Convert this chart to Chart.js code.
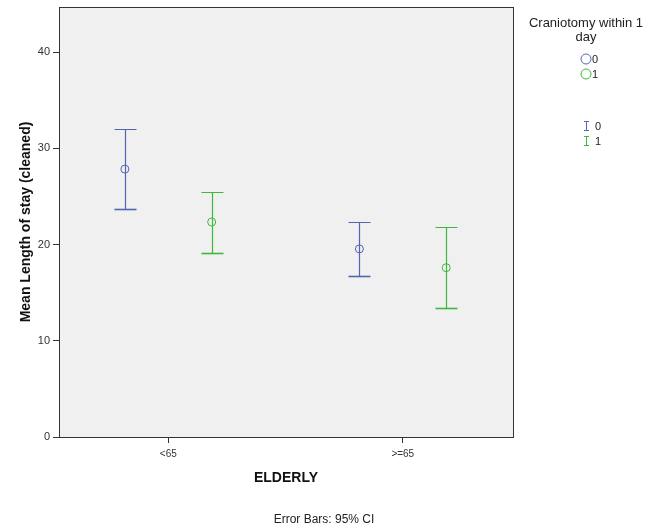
<!DOCTYPE html>
<html>
<head>
<meta charset="utf-8">
<script src="https://cdn.jsdelivr.net/npm/chart.js@4/dist/chart.umd.min.js"></script>
<style>
html,body{margin:0;padding:0;background:#fff;}
#wrap{position:relative;width:654px;height:531px;}
</style>
</head>
<body>
<div id="wrap"><canvas id="c" width="654" height="531"></canvas></div>
<script>
// ---- data ----
const categories = ["<65", ">=65"];
const groups = ["0", "1"];
const meanG0 = [27.85, 19.55];
const lowerG0 = [23.7, 16.75];
const upperG0 = [32.0, 22.4];
const meanG1 = [22.35, 17.6];
const lowerG1 = [19.1, 13.4];
const upperG1 = [25.5, 21.8];
const yTicks = [0, 10, 20, 30, 40];

const colors = ["#5266b0", "#3cb83c"];
const offsets = [-0.185, 0.185];
const series = [
  {mean: meanG0, lo: lowerG0, hi: upperG0},
  {mean: meanG1, lo: lowerG1, hi: upperG1}
];

const datasets = series.map((s, g) => ({
  label: groups[g],
  data: categories.map((c, i) => ({x: i + offsets[g], y: s.mean[i], lo: s.lo[i], hi: s.hi[i]})),
  borderColor: colors[g],
  backgroundColor: 'rgba(0,0,0,0)',
  pointRadius: 4,
  pointHoverRadius: 4,
  pointBorderWidth: 1,
  showLine: false
}));

const FONT = "Arial, 'Liberation Sans', sans-serif";

const custom = {
  id: 'custom',
  beforeDatasetsDraw(chart) {
    const {ctx, chartArea: a} = chart;
    ctx.save();
    ctx.fillStyle = '#f0f0f0';
    ctx.fillRect(a.left, a.top, a.right - a.left, a.bottom - a.top);
    // error bars
    const xs = chart.scales.x, ys = chart.scales.y;
    chart.data.datasets.forEach((ds) => {
      ctx.strokeStyle = ds.borderColor;
      ds.data.forEach(p => {
        const px = Math.round(xs.getPixelForValue(p.x)) + 0.5;
        const yHi = Math.round(ys.getPixelForValue(p.hi)) + 0.5;
        const yLo = Math.round(ys.getPixelForValue(p.lo)) + 0.5;
        ctx.lineWidth = 1.2;
        ctx.beginPath();
        ctx.moveTo(px, yHi); ctx.lineTo(px, yLo);
        ctx.moveTo(px - 11, yHi); ctx.lineTo(px + 11, yHi);
        ctx.stroke();
        ctx.lineWidth = 1.6;
        ctx.beginPath();
        ctx.moveTo(px - 11, yLo); ctx.lineTo(px + 11, yLo);
        ctx.stroke();
      });
    });
    ctx.restore();
  },
  afterDraw(chart) {
    const {ctx, chartArea: a} = chart;
    ctx.save();
    // frame
    ctx.strokeStyle = '#333';
    ctx.lineWidth = 1;
    ctx.strokeRect(Math.round(a.left) + 0.5, Math.round(a.top) + 0.5, Math.round(a.right - a.left), Math.round(a.bottom - a.top));
    // axis titles
    ctx.fillStyle = '#111';
    ctx.font = 'bold 14px ' + FONT;
    ctx.textAlign = 'center';
    ctx.textBaseline = 'middle';
    ctx.fillText('ELDERLY', (a.left + a.right) / 2, 478);
    ctx.save();
    ctx.translate(26, (a.top + a.bottom) / 2);
    ctx.rotate(-Math.PI / 2);
    ctx.fillText('Mean Length of stay (cleaned)', 0, 0);
    ctx.restore();
    // footnote
    ctx.font = '12px ' + FONT;
    ctx.fillStyle = '#222';
    ctx.fillText('Error Bars: 95% CI', 324, 520);
    // legend
    ctx.font = '13px ' + FONT;
    ctx.fillStyle = '#222';
    ctx.fillText('Craniotomy within 1', 586, 23);
    ctx.fillText('day', 586, 37);
    ctx.textAlign = 'left';
    ctx.font = '11px ' + FONT;
    groups.forEach((g, i) => {
      const y = 59 + i * 15;
      ctx.strokeStyle = colors[i];
      ctx.lineWidth = 1;
      ctx.beginPath();
      ctx.arc(586, y, 5, 0, Math.PI * 2);
      ctx.stroke();
      ctx.fillStyle = '#222';
      ctx.fillText(g, 592, y + 1);
    });
    groups.forEach((g, i) => {
      const y = 126 + i * 15;
      ctx.strokeStyle = colors[i];
      ctx.lineWidth = 1;
      ctx.beginPath();
      ctx.moveTo(586.5, y - 4); ctx.lineTo(586.5, y + 4);
      ctx.moveTo(584, y - 4.5); ctx.lineTo(589, y - 4.5);
      ctx.moveTo(584, y + 4.5); ctx.lineTo(589, y + 4.5);
      ctx.stroke();
      ctx.fillStyle = '#222';
      ctx.fillText(g, 595, y + 1);
    });
    ctx.restore();
  }
};

new Chart(document.getElementById('c'), {
  type: 'scatter',
  data: {datasets},
  plugins: [custom],
  options: {
    responsive: false,
    animation: false,
    devicePixelRatio: 1,
    layout: {padding: {left: 0, top: 7, right: 141, bottom: 0}},
    plugins: {legend: {display: false}, tooltip: {enabled: false}},
    scales: {
      x: {
        type: 'linear',
        min: -0.466,
        max: 1.47,
        afterBuildTicks: s => { s.ticks = categories.map((c, i) => ({value: i})); },
        afterFit: s => { s.height = 94; s.paddingLeft = 0; s.paddingRight = 0; },
        ticks: {
          callback: (v) => categories[v],
          color: '#333',
          font: {family: FONT, size: 10},
          padding: 5
        },
        grid: {drawOnChartArea: false, tickLength: 6, color: '#333'},
        border: {display: true, color: '#333'}
      },
      y: {
        min: 0,
        max: 44.7,
        afterBuildTicks: s => { s.ticks = yTicks.map(v => ({value: v})); },
        afterFit: s => { s.width = 59; s.paddingTop = 0; s.paddingBottom = 0; },
        ticks: {
          color: '#333',
          font: {family: FONT, size: 11},
          padding: 3
        },
        grid: {drawOnChartArea: false, tickLength: 6, color: '#333'},
        border: {display: true, color: '#333'}
      }
    }
  }
});
</script>
</body>
</html>
